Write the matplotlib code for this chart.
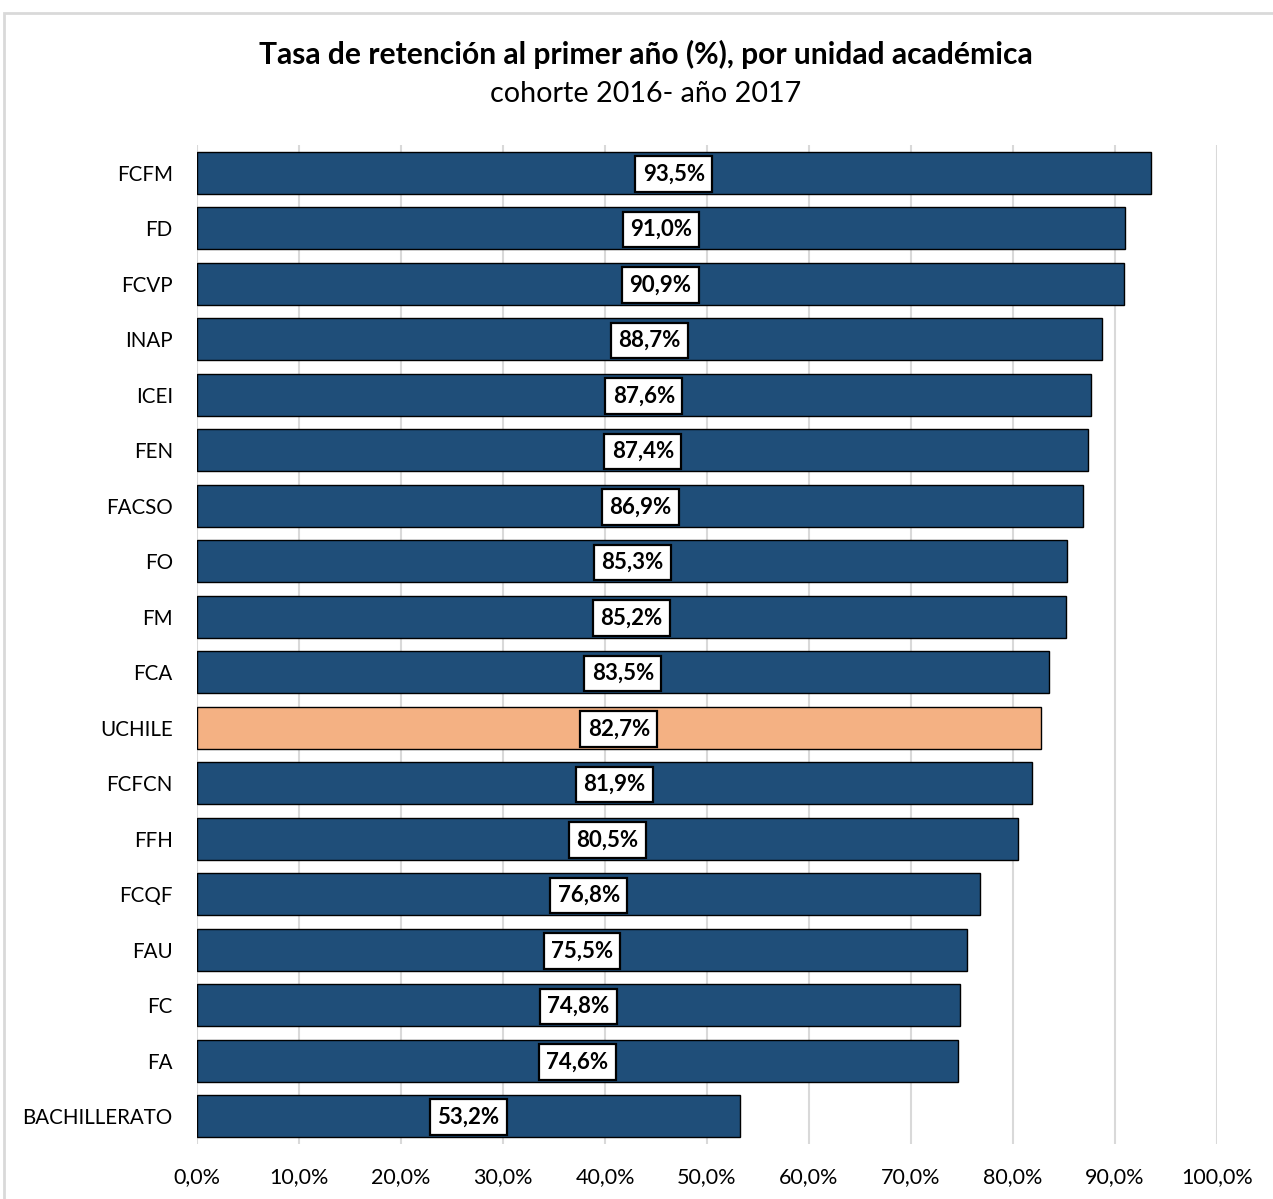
import matplotlib.pyplot as plt
from matplotlib.patches import Rectangle

plt.rcParams['font.family'] = ['Lato', 'DejaVu Sans']

# data, top to bottom
units = ['FCFM', 'FD', 'FCVP', 'INAP', 'ICEI', 'FEN', 'FACSO', 'FO', 'FM', 'FCA',
         'UCHILE', 'FCFCN', 'FFH', 'FCQF', 'FAU', 'FC', 'FA', 'BACHILLERATO']
rates = [93.5, 91.0, 90.9, 88.7, 87.6, 87.4, 86.9, 85.3, 85.2, 83.5,
         82.7, 81.9, 80.5, 76.8, 75.5, 74.8, 74.6, 53.2]
highlight = 'UCHILE'
x_ticks = [0, 10, 20, 30, 40, 50, 60, 70, 80, 90, 100]

blue = '#1F4E79'
orange = '#F4B183'

fig = plt.figure(figsize=(12.73, 11.99), dpi=100)
fig.patches.append(Rectangle((4 / 1273, -0.01), 1.1, (1199 - 13) / 1199 + 0.01,
                             transform=fig.transFigure, fill=False,
                             edgecolor='#D9D9D9', linewidth=2))

ax = fig.add_axes([0.1548, 0.0459, 0.956 - 0.1548, 0.879 - 0.0459])

colors = [orange if u == highlight else blue for u in units]
ypos = list(range(len(units)))
ax.barh(ypos, rates, height=0.76, color=colors, edgecolor='black', linewidth=1, zorder=2)

for y, v in zip(ypos, rates):
    ax.text(v / 2, y + 0.02, '{:.1f}%'.format(v).replace('.', ','), ha='center', va='center',
            fontsize=16, fontweight='bold', zorder=3,
            bbox=dict(boxstyle='square,pad=0.33', facecolor='white', edgecolor='black', linewidth=1.6))

ax.set_xlim(0, 100)
ax.set_ylim(len(units) - 0.5, -0.5)
ax.set_yticks(ypos)
ax.set_yticklabels(units, fontsize=14.8)
ax.set_xticks(x_ticks)
ax.set_xticklabels(['{:.1f}%'.format(t).replace('.', ',') for t in x_ticks], fontsize=15.5)
ax.tick_params(axis='y', length=0, pad=17.5)
ax.tick_params(axis='x', length=0, pad=17)
ax.grid(axis='x', color='#D9D9D9', linewidth=1.5, zorder=0)
for s in ax.spines.values():
    s.set_visible(False)

fig.text(0.507, 0.955, 'Tasa de retención al primer año (%), por unidad académica',
         ha='center', va='center', fontsize=21.6, fontweight='bold')
fig.text(0.507, 0.922, 'cohorte 2016- año 2017', ha='center', va='center', fontsize=20.7)

fig.savefig('out.png', dpi=100)
